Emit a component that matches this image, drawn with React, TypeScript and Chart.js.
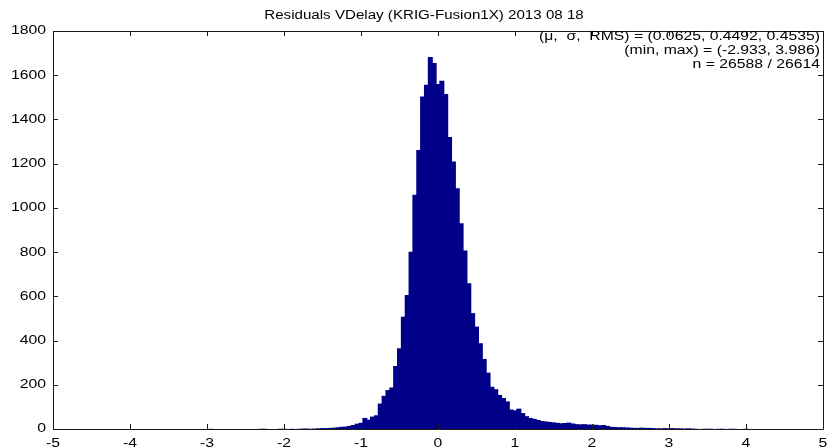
import React, { useEffect, useRef } from "react";
import { Chart, registerables } from "chart.js";

Chart.register(...registerables);

// Histogram of residuals: bins of width 0.05, first bin centred at -2.95
const BIN_START = -2.95;
const BIN_WIDTH = 0.05;

// Counts per bin, from -2.95 up to 4.00
const counts: number[] = [
  // -2.95 .. -2.00
  1, 0, 0, 0, 0, 0, 0, 0, 0, 0, 0, 0, 0, 1, 1, 0, 0, 0, 1, 1,
  // -1.95 .. -1.00
  0, 1, 0, 1, 2, 2, 1, 2, 3, 4, 4, 5, 6, 8, 10, 11, 14, 18, 24, 28,
  // -0.95 .. -0.05
  50, 42, 56, 62, 115, 150, 176, 188, 285, 365, 508, 606, 802, 1059, 1262, 1504, 1557, 1682, 1655,
  // 0.00 .. 0.95
  1560, 1575, 1515, 1321, 1210, 1089, 931, 807, 659, 524, 463, 388, 317, 255, 191, 180, 154, 140, 125, 88,
  // 1.00 .. 1.95
  84, 92, 72, 58, 50, 46, 41, 36, 34, 32, 30, 28, 26, 27, 29, 25, 22, 21, 22, 20,
  // 2.00 .. 2.95
  20, 19, 17, 18, 14, 10, 9, 8, 8, 7, 6, 5, 5, 6, 5, 5, 4, 3, 3, 4,
  // 3.00 .. 4.00
  3, 4, 3, 3, 2, 3, 2, 1, 0, 1, 1, 1, 0, 1, 1, 0, 1, 1, 0, 0, 1,
];

const title = "Residuals VDelay (KRIG-Fusion1X) 2013 08 18";
const statLines = [
  "(\u03bc,  \u03c3,  RMS) = (0.0625, 0.4492, 0.4535)",
  "(min, max) = (-2.933, 3.986)",
  "n = 26588 / 26614",
];

const xMin = -5;
const xMax = 5;
const xStep = 1;
const yMin = 0;
const yMax = 1800;
const yStep = 200;

const BAR_COLOR = "#000088";
const AXIS_COLOR = "#1a1a1a";
const FONT = '12.5px "Liberation Sans", Arial, Helvetica, sans-serif';
const TEXT_SX = 1.26; // horizontal stretch of the lettering
const TITLE_SX = 1.21;
const TICK_LEN = 5;

function stretchedText(
  ctx: CanvasRenderingContext2D,
  str: string,
  x: number,
  y: number,
  align: CanvasTextAlign,
  baseline: CanvasTextBaseline,
  sx = TEXT_SX
) {
  ctx.save();
  ctx.translate(x, y);
  ctx.scale(sx, 1);
  ctx.textAlign = align;
  ctx.textBaseline = baseline;
  ctx.fillText(str, 0, 0);
  ctx.restore();
}

const matlabAxes = {
  id: "matlabAxes",
  afterDraw(chart: any) {
    const { ctx, chartArea: a, scales } = chart;
    const xs = scales.x;
    const ys = scales.y;
    ctx.save();
    ctx.strokeStyle = AXIS_COLOR;
    ctx.lineWidth = 1;

    // box
    ctx.beginPath();
    ctx.rect(Math.round(a.left) + 0.5, Math.round(a.top) + 0.5, Math.round(a.right - a.left), Math.round(a.bottom - a.top));
    ctx.stroke();

    // inward ticks on all four sides
    ctx.beginPath();
    xs.ticks.forEach((t: any) => {
      const px = Math.round(xs.getPixelForValue(t.value)) + 0.5;
      ctx.moveTo(px, a.bottom);
      ctx.lineTo(px, a.bottom - TICK_LEN);
      ctx.moveTo(px, a.top);
      ctx.lineTo(px, a.top + TICK_LEN);
    });
    ys.ticks.forEach((t: any) => {
      const py = Math.round(ys.getPixelForValue(t.value)) + 0.5;
      ctx.moveTo(a.left, py);
      ctx.lineTo(a.left + TICK_LEN, py);
      ctx.moveTo(a.right, py);
      ctx.lineTo(a.right - TICK_LEN, py);
    });
    ctx.stroke();

    // tick labels
    ctx.fillStyle = "#000";
    ctx.font = FONT;
    xs.ticks.forEach((t: any) => {
      const px = xs.getPixelForValue(t.value);
      stretchedText(ctx, String(t.value), px, a.bottom + 8, "center", "top");
    });
    ys.ticks.forEach((t: any) => {
      const py = ys.getPixelForValue(t.value);
      stretchedText(ctx, String(t.value), a.left - 7, py, "right", "middle");
    });

    // title
    stretchedText(ctx, title, (a.left + a.right) / 2 - 14, 16, "center", "middle", TITLE_SX);

    // statistics, top-right corner
    statLines.forEach((line, i) => {
      stretchedText(ctx, line, a.right - 3, 37 + i * 14, "right", "middle");
    });
    ctx.restore();
  },
};

export default function App() {
  const canvasRef = useRef<HTMLCanvasElement | null>(null);

  useEffect(() => {
    const canvas = canvasRef.current;
    if (!canvas) return;
    const points = counts.map((c, i) => ({ x: BIN_START + i * BIN_WIDTH, y: c }));
    const chart = new Chart(canvas, {
      type: "bar",
      data: {
        datasets: [
          {
            data: points as any,
            backgroundColor: BAR_COLOR,
            borderWidth: 0,
            // overlap of about a pixel so adjacent bins join without seams
            barPercentage: 1.3,
            categoryPercentage: 1,
          },
        ],
      },
      options: {
        animation: false,
        responsive: false,
        maintainAspectRatio: false,
        devicePixelRatio: 1,
        layout: { padding: { top: 31, right: 4, left: 0, bottom: 0 } },
        plugins: {
          legend: { display: false },
          tooltip: { enabled: false },
          title: { display: false },
        },
        scales: {
          x: {
            type: "linear",
            min: xMin,
            max: xMax,
            offset: false,
            ticks: { stepSize: xStep, display: false },
            grid: { display: false, drawTicks: false },
            border: { display: false },
            afterFit: (s: any) => {
              s.height = 18;
            },
          },
          y: {
            type: "linear",
            min: yMin,
            max: yMax,
            ticks: { stepSize: yStep, display: false },
            grid: { display: false, drawTicks: false },
            border: { display: false },
            afterFit: (s: any) => {
              s.width = 53;
            },
          },
        },
      },
      plugins: [matlabAxes],
    });
    return () => chart.destroy();
  }, []);

  return (
    <div style={{ position: "fixed", left: 0, top: 0, width: 827, height: 447, background: "#fff" }}>
      <canvas ref={canvasRef} width={827} height={447} style={{ display: "block" }} />
    </div>
  );
}
